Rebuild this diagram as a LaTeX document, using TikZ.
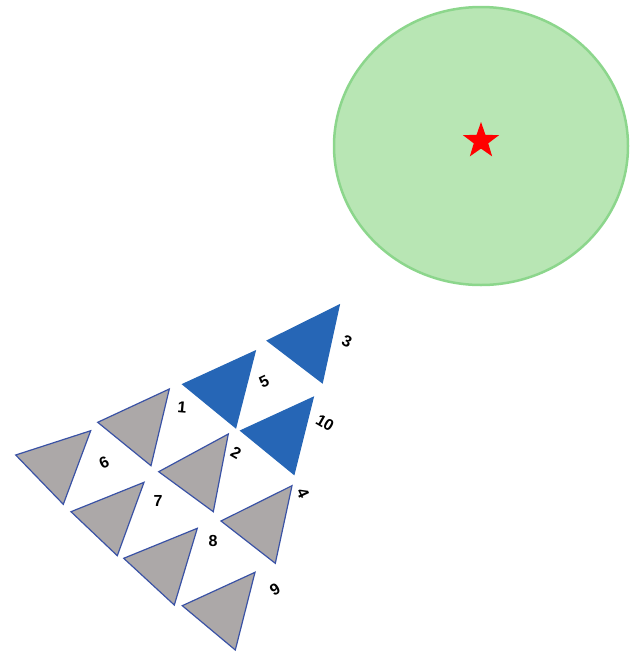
\documentclass[tikz,border=0pt]{standalone}
\usepackage{fontspec}
\setmainfont{Liberation Sans}
\usetikzlibrary{shapes.geometric}
\definecolor{grayfill}{RGB}{172,168,168}
\definecolor{bluefill}{RGB}{38,102,182}
\definecolor{triedge}{RGB}{58,82,165}
\definecolor{circfill}{RGB}{184,230,180}
\definecolor{circedge}{RGB}{140,214,140}
\tikzset{
  graytri/.style={fill=grayfill,draw=triedge,line width=1.2pt,line join=miter},
  bluetri/.style={fill=bluefill,draw=bluefill,line width=1.2pt,line join=miter},
  numlbl/.style={font=\fontsize{16}{16}\selectfont\bfseries,inner sep=0pt}
}
\newcommand\mytri[4]{\draw[#1] #2 -- #3 -- #4 -- cycle;}
\begin{document}
\begin{tikzpicture}[x=1pt,y=-1pt]
\useasboundingbox (0,0) rectangle (634,665);
% circle with star
\node[ellipse,draw=circedge,fill=circfill,line width=2.5pt,minimum width=294pt,minimum height=278pt,inner sep=0pt] (disc) at (481,146) {};
\node[star,star points=5,star point ratio=2.5,fill=red,inner sep=0pt,minimum size=38pt] (starmark) at (481,141) {};
% triangles: left vertex, top-right vertex, bottom vertex
\mytri{bluetri}{(267.3,340.7)}{(339.3,305)}{(322.3,382.7)}
\mytri{bluetri}{(182.7,384.3)}{(255.3,351)}{(235.7,427.7)}
\mytri{graytri}{(97.7,422.3)}{(169.3,389)}{(151,465.7)}
\mytri{bluetri}{(240.7,430.7)}{(313.3,397.3)}{(294,474.3)}
\mytri{graytri}{(15.7,455)}{(90.7,430.7)}{(63.3,504.3)}
\mytri{graytri}{(158.7,471.7)}{(228.3,434)}{(213.3,511.7)}
\mytri{graytri}{(71,511.7)}{(144,482.3)}{(117.3,555.7)}
\mytri{graytri}{(221,521)}{(292,485.7)}{(275.3,563.3)}
\mytri{graytri}{(123.7,558.3)}{(197.3,528.3)}{(174.3,605)}
\mytri{graytri}{(182.3,605.7)}{(255,572.3)}{(235.3,650)}
% labels
\node[numlbl,rotate=-25] (l3) at (347,341) {3};
\node[numlbl,rotate=25] (l5) at (264,382) {5};
\node[numlbl,rotate=-5] (l1) at (182,407) {1};
\node[numlbl,rotate=-30] (l10) at (325,423) {10};
\node[numlbl,rotate=25] (l6) at (104,463) {6};
\node[numlbl,rotate=-30] (l2) at (236,453) {2};
\node[numlbl] (l7) at (158,501) {7};
\node[numlbl,rotate=-65] (l4) at (303,493) {4};
\node[numlbl] (l8) at (213,541) {8};
\node[numlbl,rotate=30] (l9) at (275,589) {9};
\end{tikzpicture}
\end{document}
